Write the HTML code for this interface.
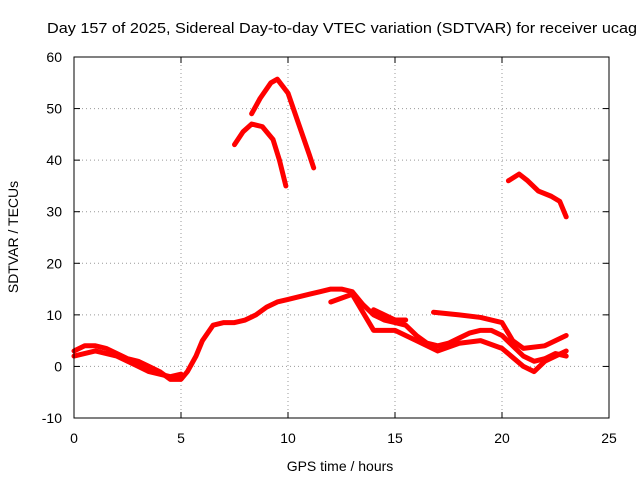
<!DOCTYPE html>
<html><head><meta charset="utf-8"><style>
body{margin:0;background:#fff}
svg{font-family:"Liberation Sans",sans-serif;font-size:14px}
</style></head><body>
<svg width="640" height="480" viewBox="0 0 640 480">
<rect width="640" height="480" fill="#fff"/>
<text x="47" y="33" text-anchor="start" font-size="14.5" textLength="590" lengthAdjust="spacingAndGlyphs">Day 157 of 2025, Sidereal Day-to-day VTEC variation (SDTVAR) for receiver ucag</text>
<g id="grid"></g><g id="axes"></g><g id="series"></g>
<rect x="74" y="57" width="535" height="361" fill="none" stroke="#000"/>
<text x="340" y="471" text-anchor="middle">GPS time / hours</text>
<text transform="translate(18,237) rotate(-90)" text-anchor="middle">SDTVAR / TECUs</text>
</svg>
<script>
const xTicks=[0,5,10,15,20,25];
const yTicks=[-10,0,10,20,30,40,50,60];
const arcLow=[[7.5,43],[7.9,45.5],[8.3,47],[8.8,46.5],[9.3,44],[9.6,40],[9.9,35]];
const arcHigh=[[8.3,49],[8.7,52],[9.2,55],[9.5,55.7],[10,53],[10.5,47],[11,41],[11.2,38.5]];
const arcLate=[[20.3,36],[20.8,37.3],[21.2,36],[21.7,34],[22.3,33],[22.7,32],[23,29]];
const bandMain=[[0,3],[0.5,4],[1,4],[1.5,3.5],[2,2.5],[2.5,1.5],[3,1],[3.5,0],[4,-1],[4.5,-2.5],[5,-2.5],[5.3,-1],[5.7,2],[6,5],[6.5,8],[7,8.5],[7.5,8.5],[8,9],[8.5,10],[9,11.5],[9.5,12.5],[10,13],[10.5,13.5],[11,14],[11.5,14.5],[12,15],[12.5,15],[13,14.5],[13.5,12],[14,10],[14.5,9],[15,8.5],[15.5,8],[16,6],[16.5,4.5],[17,4],[17.5,4.5],[18,5.5],[18.5,6.5],[19,7],[19.5,7],[20,6],[20.5,4],[21,2],[21.5,1],[22,1.5],[22.5,2.5],[23,2]];
const bandB=[[0,2],[1,3],[2,2],[3,0],[3.5,-1],[4.5,-2],[5,-1.5]];
const bandC=[[12,12.5],[13,14],[14,7],[15,7],[16,5],[17,3],[18,4.5],[19,5],[20,3.5],[21,0],[21.5,-1],[22,1],[23,3]];
const bandD=[[14,11],[15,9],[15.5,9]];
const bandE=[[16.8,10.5],[18,10],[19,9.5],[20,8.5],[20.5,5],[21,3.5],[22,4],[22.5,5],[23,6]];
const allSeries=[arcLow,arcHigh,arcLate,bandMain,bandB,bandC,bandD,bandE];
const NS="http://www.w3.org/2000/svg";
const X=v=>74+(v-0)*(535/25), Y=v=>418-(v+10)*(361/70);
const grid=document.getElementById('grid'),axes=document.getElementById('axes'),ser=document.getElementById('series');
function mk(t,a,p){const e=document.createElementNS(NS,t);for(const k in a)e.setAttribute(k,a[k]);p.appendChild(e);return e;}
xTicks.forEach(v=>{
 if(v>0&&v<25){const g=mk('line',{x1:X(v),x2:X(v),y1:57,y2:418,stroke:'#999','stroke-dasharray':'1,3'},grid);
 
 }
 const t=mk('text',{x:X(v),y:443,'text-anchor':'middle'},axes);t.textContent=v;
 
 
 mk('line',{x1:X(v),x2:X(v),y1:418,y2:412,stroke:'#000'},axes);
 mk('line',{x1:X(v),x2:X(v),y1:57,y2:63,stroke:'#000'},axes);
});
yTicks.forEach(v=>{
 if(v>-10&&v<60){const g=mk('line',{x1:74,x2:609,y1:Y(v),y2:Y(v),stroke:'#999','stroke-dasharray':'1,3'},grid);
 
 }
 const t=mk('text',{x:62,y:Y(v)+5,'text-anchor':'end'},axes);t.textContent=v;
 
 
 mk('line',{x1:74,x2:80,y1:Y(v),y2:Y(v),stroke:'#000'},axes);
 mk('line',{x1:603,x2:609,y1:Y(v),y2:Y(v),stroke:'#000'},axes);
});
allSeries.forEach((s,i)=>{
 const p=mk('polyline',{points:s.map(d=>X(d[0])+','+Y(d[1])).join(' '),fill:'none',stroke:'#f00','stroke-width':5,'stroke-linejoin':'round','stroke-linecap':'round'},ser);
 
 
});
</script>
</body></html>
